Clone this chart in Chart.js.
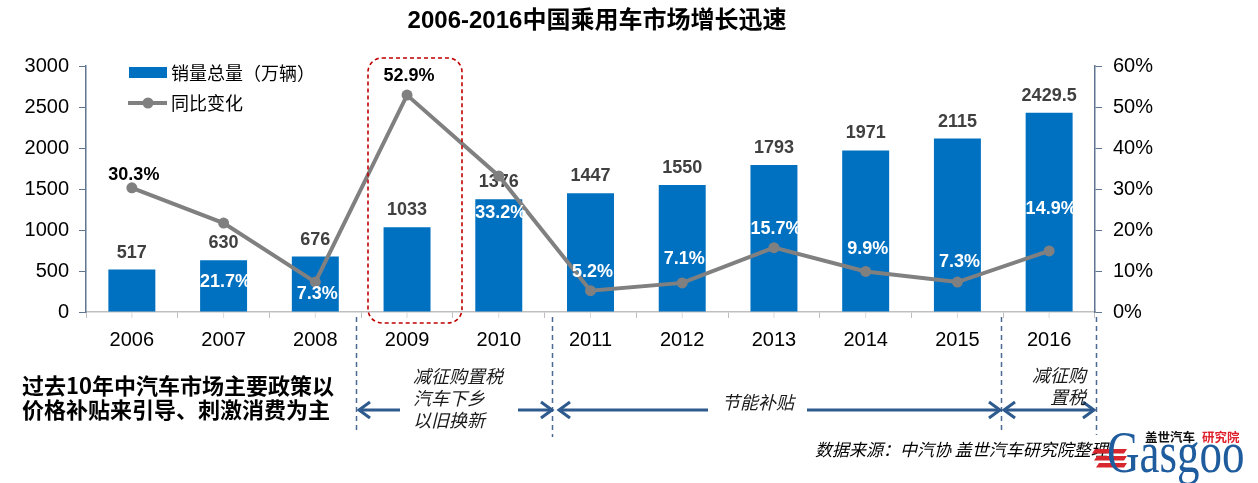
<!DOCTYPE html>
<html><head><meta charset="utf-8">
<script src="https://cdn.jsdelivr.net/npm/chart.js@4"></script>
<style>html,body{margin:0;padding:0;background:#fff;overflow:hidden}#wrap{position:relative;width:1258px;height:483px}</style>
</head><body><div id="wrap"><canvas id="c"></canvas></div>
<script>
// ---- data ----
const years = ['2006','2007','2008','2009','2010','2011','2012','2013','2014','2015','2016'];
const sales = [517, 630, 676, 1033, 1376, 1447, 1550, 1793, 1971, 2115, 2429.5];
const growth = [30.3, 21.7, 7.3, 52.9, 33.2, 5.2, 7.1, 15.7, 9.9, 7.3, 14.9];
const salesTicks = [0, 500, 1000, 1500, 2000, 2500, 3000];
const pctTicks = ['0%','10%','20%','30%','40%','50%','60%'];
const seriesNames = ['销量总量（万辆）', '同比变化'];
const titleText = '2006-2016中国乘用车市场增长迅速';

// ---- style ----
const LAT = '"Liberation Sans", Arial, "Noto Sans CJK SC", sans-serif';
const CJK = '"Noto Sans CJK SC", "Liberation Sans", sans-serif';
const BLUE = '#0070C0', GRAY = '#808080', AXIS = '#5F7590', ARROW = '#2E5A8E';
const pctLabelDy = [-13, 59, 12, -19, 37, -19, -24, -19, -22, -20, -42];
const pctLabelWhite = [false, true, true, false, true, true, true, true, true, true, true];

function catX(chart, idx) {
  const x = chart.scales.x;
  const p0 = x.getPixelForValue(0), p1 = x.getPixelForValue(1);
  return p0 + idx * (p1 - p0);
}
function arrowHead(ctx, tx, ty, dir) {
  ctx.beginPath();
  ctx.moveTo(tx - dir * 11, ty - 8);
  ctx.lineTo(tx, ty);
  ctx.lineTo(tx - dir * 11, ty + 8);
  ctx.stroke();
}
function hLine(ctx, x0, x1, y) {
  ctx.beginPath(); ctx.moveTo(x0, y); ctx.lineTo(x1, y); ctx.stroke();
}

const deco = {
  id: 'deco',
  afterDatasetDraw(chart, args) {
    if (args.index !== 1) return;
    const ctx = chart.ctx, meta = chart.getDatasetMeta(1);
    ctx.save();
    ctx.font = 'bold 18px ' + LAT;
    ctx.fillStyle = '#404040';
    ctx.textAlign = 'center'; ctx.textBaseline = 'middle';
    meta.data.forEach((b, i) => ctx.fillText(String(sales[i]), b.x, b.y - 17));
    ctx.restore();
  },
  afterDatasetsDraw(chart) {
    const ctx = chart.ctx, meta = chart.getDatasetMeta(0);
    ctx.save();
    ctx.font = 'bold 18px ' + LAT;
    ctx.textAlign = 'center'; ctx.textBaseline = 'middle';
    meta.data.forEach((p, i) => {
      ctx.fillStyle = pctLabelWhite[i] ? '#FFFFFF' : '#000000';
      ctx.fillText(growth[i].toFixed(1) + '%', p.x + 2, p.y + pctLabelDy[i]);
    });
    ctx.restore();
  },
  afterDraw(chart) {
    const ctx = chart.ctx, area = chart.chartArea, xs = chart.scales.x;
    ctx.save();
    // title
    ctx.fillStyle = '#000';
    ctx.font = 'bold 24px ' + LAT;
    ctx.textAlign = 'center'; ctx.textBaseline = 'middle';
    ctx.fillText(titleText, 597, 21);

    // category center ticks
    ctx.strokeStyle = '#D9D9D9'; ctx.lineWidth = 1;
    years.forEach((y, i) => {
      const x = xs.getPixelForValue(i);
      ctx.beginPath(); ctx.moveTo(x, area.bottom); ctx.lineTo(x, area.bottom + 6); ctx.stroke();
    });

    // legend
    ctx.fillStyle = BLUE;
    ctx.fillRect(129, 67, 38, 11);
    ctx.strokeStyle = GRAY; ctx.lineWidth = 4;
    hLine(ctx, 128, 167, 103);
    ctx.fillStyle = GRAY;
    ctx.beginPath(); ctx.arc(148, 103, 5.5, 0, Math.PI * 2); ctx.fill();
    ctx.fillStyle = '#000';
    ctx.font = '18px ' + CJK;
    ctx.textAlign = 'left'; ctx.textBaseline = 'middle';
    ctx.fillText(seriesNames[0], 171, 73);
    ctx.fillText(seriesNames[1], 171, 103);

    // red dashed rounded rect around 2009
    ctx.strokeStyle = '#C00000'; ctx.lineWidth = 1.6; ctx.setLineDash([4, 3]);
    ctx.beginPath(); ctx.roundRect(368, 58, 94, 265, 14); ctx.stroke();

    // vertical dashed separators
    ctx.strokeStyle = '#4A6A94'; ctx.lineWidth = 1.5; ctx.setLineDash([5, 4]);
    [[2.447, 430], [4.583, 437], [9.477, 430], [10.512, 435]].forEach(([c, yb]) => {
      const x = Math.round(catX(chart, c)) + 0.5;
      ctx.beginPath(); ctx.moveTo(x, area.bottom + 5); ctx.lineTo(x, yb); ctx.stroke();
    });
    ctx.setLineDash([]);

    // arrows
    ctx.strokeStyle = ARROW; ctx.lineWidth = 3; ctx.lineCap = 'butt';
    const ay = 410;
    hLine(ctx, 359, 400, ay); arrowHead(ctx, 359, ay, -1);
    hLine(ctx, 518, 552, ay); arrowHead(ctx, 552, ay, 1);
    hLine(ctx, 559, 708, ay); arrowHead(ctx, 559, ay, -1);
    hLine(ctx, 807, 1000, ay); arrowHead(ctx, 1000, ay, 1);
    hLine(ctx, 1004, 1094, ay); arrowHead(ctx, 1004, ay, -1); arrowHead(ctx, 1094, ay, 1);

    // left bold note
    ctx.fillStyle = '#000';
    ctx.font = 'bold 22px ' + CJK;
    ctx.textAlign = 'left'; ctx.textBaseline = 'middle';
    ctx.fillText('过去10年中汽车市场主要政策以', 22, 386);
    ctx.fillText('价格补贴来引导、刺激消费为主', 22, 410);

    // italic policy notes
    ctx.font = 'italic 18px ' + CJK;
    ctx.fillStyle = '#1a1a1a';
    ctx.fillText('减征购置税', 413, 376);
    ctx.fillText('汽车下乡', 413, 398);
    ctx.fillText('以旧换新', 413, 420);
    ctx.textAlign = 'center';
    ctx.fillText('节能补贴', 758, 402);
    ctx.textAlign = 'right';
    ctx.fillText('减征购', 1086, 375);
    ctx.fillText('置税', 1086, 397);

    // source
    ctx.font = 'italic 17px ' + CJK;
    ctx.textAlign = 'left';
    ctx.fillStyle = '#000';
    ctx.fillText('数据来源：中汽协 盖世汽车研究院整理', 815, 450);

    // logo
    ctx.fillStyle = '#D7262E';
    for (let i = 0; i < 3; i++) {
      const y = 449 + i * 7, x0 = 1092 + i * 2, x1 = 1124;
      ctx.beginPath();
      ctx.moveTo(x0 + 3, y); ctx.lineTo(x1 + 3, y); ctx.lineTo(x1, y + 4.5); ctx.lineTo(x0, y + 4.5);
      ctx.closePath(); ctx.fill();
    }
    ctx.save();
    ctx.fillStyle = '#1F5C9E';
    ctx.font = '60px "Liberation Serif", "DejaVu Serif", serif';
    ctx.textAlign = 'left'; ctx.textBaseline = 'alphabetic';
    ctx.translate(1107, 472); ctx.scale(0.75, 1);
    ctx.fillText('Gasgoo', 0, 0);
    ctx.restore();
    ctx.font = 'bold 12.5px ' + CJK;
    ctx.textAlign = 'left'; ctx.textBaseline = 'middle';
    ctx.fillStyle = '#111';
    ctx.fillText('盖世汽车', 1145, 437);
    ctx.fillStyle = '#E0202A';
    ctx.fillText('研究院', 1202, 437);
    ctx.restore();
  }
};

new Chart(document.getElementById('c'), {
  type: 'bar',
  data: {
    labels: years,
    datasets: [
      { type: 'line', label: seriesNames[1], data: growth, yAxisID: 'y1', order: 0,
        borderColor: GRAY, borderWidth: 4, tension: 0,
        pointRadius: 5.5, pointBackgroundColor: GRAY, pointBorderWidth: 0, pointHoverRadius: 5.5 },
      { type: 'bar', label: seriesNames[0], data: sales, yAxisID: 'y', order: 1,
        backgroundColor: BLUE, barPercentage: 0.512, categoryPercentage: 1.0 }
    ]
  },
  options: {
    responsive: true, maintainAspectRatio: false, animation: false,
    events: [],
    layout: { padding: { top: 66, left: 0, right: 0, bottom: 0 } },
    plugins: { legend: { display: false }, tooltip: { enabled: false }, title: { display: false } },
    scales: {
      x: {
        offset: true,
        grid: { offset: true, drawOnChartArea: false, drawTicks: true, tickLength: 6, color: '#BFBFBF', lineWidth: 1 },
        border: { color: '#BFBFBF', width: 1.5 },
        ticks: { font: { size: 20, family: LAT }, color: '#000', padding: 10, maxRotation: 0, autoSkip: false },
        afterFit: s => { s.height = 171; }
      },
      y: {
        position: 'left', min: 0, max: 3000,
        afterBuildTicks: s => { s.ticks = salesTicks.map(v => ({ value: v })); },
        ticks: { font: { size: 20, family: LAT }, color: '#000', padding: 10, callback: v => String(v) },
        grid: { drawOnChartArea: false, tickLength: 7, color: AXIS, lineWidth: 1 },
        border: { color: AXIS, width: 1.5 },
        afterFit: s => { s.width = 86; }
      },
      y1: {
        position: 'right', min: 0, max: 60,
        afterBuildTicks: s => { s.ticks = pctTicks.map((t, i) => ({ value: i * 10 })); },
        ticks: { font: { size: 20, family: LAT }, color: '#000', padding: 11, callback: (v, i) => pctTicks[i] },
        grid: { drawOnChartArea: false, tickLength: 7, color: AXIS, lineWidth: 1 },
        border: { color: AXIS, width: 1.5 },
        afterFit: s => { s.width = 163; }
      }
    }
  },
  plugins: [deco]
});
</script>
</body></html>
